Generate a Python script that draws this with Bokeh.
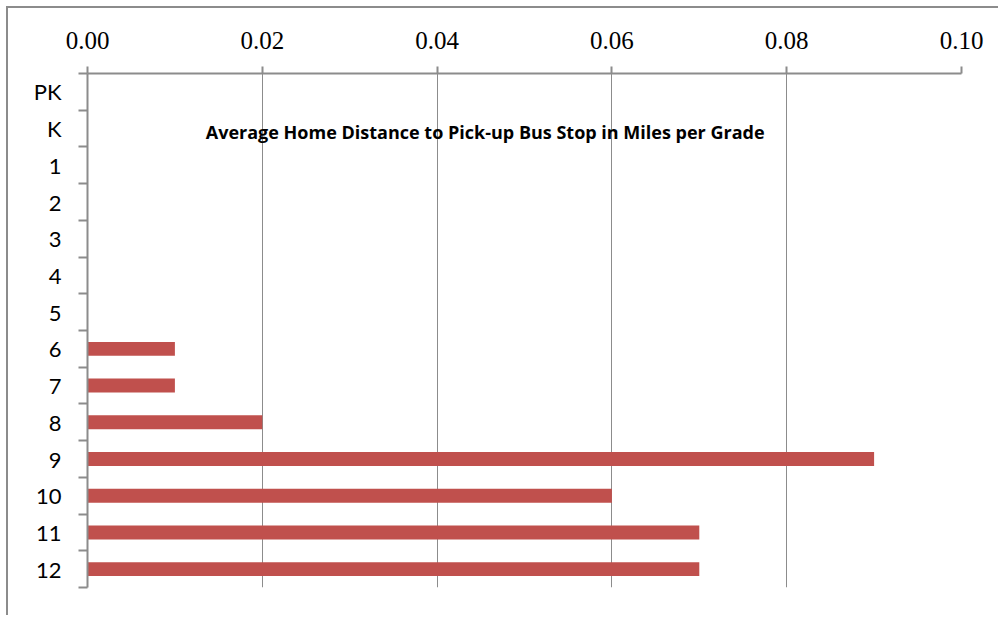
from bokeh.plotting import figure
from bokeh.models import Range1d, FixedTicker, PrintfTickFormatter, Label
from bokeh.embed import file_html
from bokeh.resources import INLINE

grades = ["PK", "K", "1", "2", "3", "4", "5", "6", "7", "8", "9", "10", "11", "12"]
distance = [0, 0, 0, 0, 0, 0, 0, 0.01, 0.01, 0.02, 0.09, 0.06, 0.07, 0.07]
x_ticks = [0.0, 0.02, 0.04, 0.06, 0.08, 0.10]
title_text = "Average Home Distance to Pick-up Bus Stop in Miles per Grade"

pos = list(range(len(grades)))

p = figure(width=998, height=615, output_backend="svg", toolbar_location=None,
           x_range=Range1d(0, 0.10), y_range=Range1d(len(grades) - 0.5, -0.5),
           x_axis_location="above",
           min_border_left=79, min_border_right=37, min_border_top=65, min_border_bottom=28)
p.frame_width = 874
p.frame_height = 514
p.margin = (6, 0, 0, 6)
p.styles = {"border-top": "2px solid #8C8C8C", "border-left": "2px solid #8C8C8C"}

p.hbar(y=pos, right=distance, left=0, height=0.38, color="#C0504D", line_color=None)

p.outline_line_color = None
p.background_fill_color = "white"
p.border_fill_color = "white"

p.ygrid.grid_line_color = None
p.xgrid.ticker = FixedTicker(ticks=x_ticks)
p.xgrid.grid_line_color = "#8C8C8C"
p.xgrid.grid_line_width = 1

xa = p.xaxis[0]
xa.ticker = FixedTicker(ticks=x_ticks)
xa.formatter = PrintfTickFormatter(format="%.2f")
xa.axis_line_color = "#8C8C8C"
xa.axis_line_width = 2
xa.major_tick_line_color = "#8C8C8C"
xa.major_tick_line_width = 2
xa.major_tick_out = 7
xa.major_tick_in = 0
xa.minor_tick_line_color = None
xa.major_label_text_font = "Liberation Serif"
xa.major_label_text_font_size = "25px"
xa.major_label_text_color = "black"
xa.major_label_standoff = 18

ya = p.yaxis[0]
ya.ticker = FixedTicker(ticks=pos, minor_ticks=[i - 0.5 for i in range(len(grades) + 1)])
ya.major_label_overrides = {i: g for i, g in enumerate(grades)}
ya.axis_line_color = "#8C8C8C"
ya.axis_line_width = 2
ya.major_tick_line_color = None
ya.major_tick_out = 0
ya.major_tick_in = 0
ya.minor_tick_line_color = "#8C8C8C"
ya.minor_tick_line_width = 2
ya.minor_tick_out = 9
ya.minor_tick_in = 0
ya.major_label_text_font = "Lato"
ya.major_label_text_font_size = "22px"
ya.major_label_text_color = "black"
ya.major_label_standoff = 17

p.add_layout(Label(x=0.0455, y=1.1, text=title_text, text_align="center",
                   text_baseline="middle", text_font="Open Sans",
                   text_font_size="18px", text_font_style="bold", text_color="black"))

open("out.html", "w").write(file_html(p, INLINE))
